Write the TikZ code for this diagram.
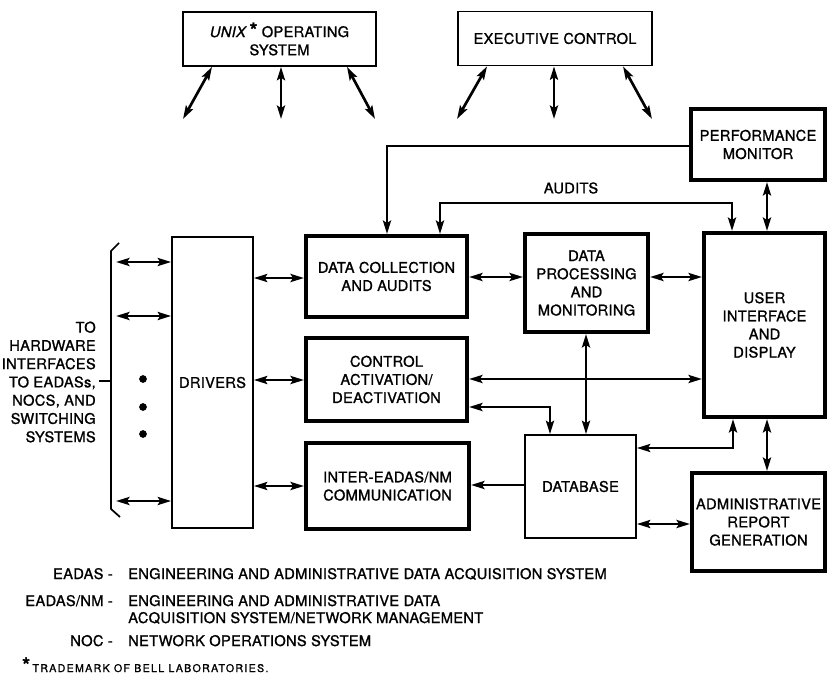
\documentclass[tikz,border=0pt]{standalone}
\usepackage{fontspec}
\setmainfont{TeX Gyre Heros}[LetterSpace=2, FakeBold=1.2]
\usetikzlibrary{arrows.meta}

\tikzset{
  lbl/.style={inner sep=0pt, align=center, font=\fontsize{11}{13.6}\selectfont},
  bx/.style 2 args={minimum width=#1*0.75pt, minimum height=#2*0.75pt},
  thinbox/.style={lbl, draw, line width=1.3pt},
  heavybox/.style={lbl, draw, line width=3pt},
  conn/.style={line width=2pt, >={Stealth[length=10pt,width=6pt,inset=1.8pt]}},
  legend/.style={inner sep=0pt, font=\fontsize{11}{13}\selectfont},
}

\begin{document}
\begin{tikzpicture}[x=0.75pt, y=-0.75pt]
\useasboundingbox (0,0) rectangle (827,677);

% ---- boxes ----
\node[thinbox, bx={193}{54}] (unix) at (279.5,39) {\textit{UNIX}\,{\fontsize{15}{15}\selectfont\bfseries *} OPERATING\\SYSTEM};
\node[thinbox, bx={194}{54}] (exec) at (555,38.5) {EXECUTIVE CONTROL};
\node[heavybox, bx={134}{71}] (perf) at (758,144.5) {PERFORMANCE\\MONITOR};
\node[thinbox, bx={81}{291}] (drivers) at (212.5,382.5) {DRIVERS};
\node[heavybox, bx={161}{81}] (dc) at (386.5,276.5) {DATA COLLECTION\\AND AUDITS};
\node[heavybox, bx={123}{98}] (dp) at (586.5,283) {DATA\\PROCESSING\\AND\\MONITORING};
\node[heavybox, bx={121}{184}] (ui) at (764.5,325) {USER\\INTERFACE\\AND\\DISPLAY};
\node[heavybox, bx={161}{83}] (ca) at (386.5,379.5) {CONTROL\\ACTIVATION/\\DEACTIVATION};
\node[heavybox, bx={163}{86}] (ie) at (387.5,486) {INTER-EADAS/NM\\COMMUNICATION};
\node[thinbox, bx={111}{103}] (db) at (580.5,486.5) {DATABASE};
\node[heavybox, bx={133}{98}] (admin) at (758.5,522) {ADMINISTRATIVE\\REPORT\\GENERATION};

% ---- free ends of the system-level arrows ----
\coordinate (ua) at (183,119);
\coordinate (ub) at (281,119);
\coordinate (uc) at (375,119);
\coordinate (ea) at (457,119);
\coordinate (eb) at (554,119);
\coordinate (ec) at (652,119);

\draw[conn,<->] (212,0 |- unix.south) -- (ua);
\draw[conn,<->] (281,0 |- unix.south) -- (ub);
\draw[conn,<->] (347,0 |- unix.south) -- (uc);
\draw[conn,<->] (487,0 |- exec.south) -- (ea);
\draw[conn,<->] (554,0 |- exec.south) -- (eb);
\draw[conn,<->] (623,0 |- exec.south) -- (ec);

% ---- monitoring and audit paths ----
\draw[conn,->] (perf.west |- 0,146) -| (387,0 |- dc.north);
\draw[conn,<->] (440,0 |- dc.north) |- (732,203) -- (732,0 |- ui.north);
\node[lbl] (audits) at (571,188) {AUDITS};
\draw[conn,<->] (767,0 |- perf.south) -- (767,0 |- ui.north);

% ---- horizontal data flow ----
\draw[conn,<->] (dc.east |- 0,277) -- (dp.west |- 0,277);
\draw[conn,<->] (dp.east |- 0,277) -- (ui.west |- 0,277);
\draw[conn,<->] (ca.east |- 0,379) -- (ui.west |- 0,379);
\draw[conn,<->] (ca.east |- 0,407) -| (550,0 |- db.north);
\draw[conn,<->] (586,0 |- dp.south) -- (586,0 |- db.north);
\draw[conn,->] (db.west |- 0,485) -- (ie.east |- 0,485);
\draw[conn,<->] (733,0 |- ui.south) |- (db.east |- 0,448);
\draw[conn,<->] (767,0 |- ui.south) -- (767,0 |- admin.north);
\draw[conn,<->] (db.east |- 0,524) -- (admin.west |- 0,524);

% ---- drivers to processing boxes ----
\draw[conn,<->] (drivers.east |- 0,278) -- (dc.west |- 0,278);
\draw[conn,<->] (drivers.east |- 0,380) -- (ca.west |- 0,380);
\draw[conn,<->] (drivers.east |- 0,486) -- (ie.west |- 0,486);

% ---- hardware side ----
\coordinate (h1) at (116,262);
\coordinate (h2) at (116,316);
\coordinate (h3) at (116,501);
\draw[conn,<->] (h1) -- (drivers.west |- h1);
\draw[conn,<->] (h2) -- (drivers.west |- h2);
\draw[conn,<->] (h3) -- (drivers.west |- h3);
\fill (143,379) circle[radius=2.9pt];
\fill (143,407) circle[radius=2.9pt];
\fill (143,434) circle[radius=2.9pt];
\draw[line width=1.3pt] (119,243) -- (111,251) -- (111,509) -- (120,517);
\draw[line width=1.3pt] (111,381) -- (99,381);
\node[lbl, align=right, anchor=east, font=\fontsize{11}{13.7}\selectfont] (hw) at (96,382)
  {TO\\HARDWARE\\INTERFACES\\TO EADASs,\\NOCS, AND\\SWITCHING\\SYSTEMS};

% ---- legend ----
\node[legend, anchor=base east] (t1) at (113,579) {EADAS -};
\node[legend, anchor=base west] (d1) at (128,579) {ENGINEERING AND ADMINISTRATIVE DATA ACQUISITION SYSTEM};
\node[legend, anchor=base east] (t2) at (113,606) {EADAS/NM -};
\node[legend, anchor=base west] (d2) at (128,606) {ENGINEERING AND ADMINISTRATIVE DATA};
\node[legend, anchor=base west] (d2b) at (128,623) {ACQUISITION SYSTEM/NETWORK MANAGEMENT};
\node[legend, anchor=base east] (t3) at (113,646) {NOC -};
\node[legend, anchor=base west] (d3) at (128,646) {NETWORK OPERATIONS SYSTEM};
\node[legend, anchor=base west] (tm) at (22,672)
  {{\fontsize{15}{15}\selectfont\bfseries *}\,{\fontsize{8}{10}\selectfont\addfontfeature{LetterSpace=12}TRADEMARK OF BELL LABORATORIES.}};
\end{tikzpicture}
\end{document}
